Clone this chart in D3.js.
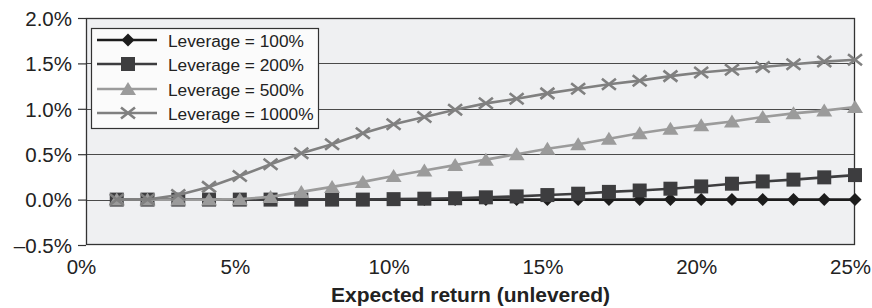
<!DOCTYPE html>
<html><head><meta charset="utf-8">
<script src="https://cdn.jsdelivr.net/npm/d3@7"></script>
<style>
html,body{margin:0;padding:0;background:#fff;}
svg{display:block;font-family:"Liberation Sans",Arial,Helvetica,sans-serif;}
</style></head>
<body><svg id="c" width="872" height="308"></svg>
<script>
const returns = [1,2,3,4,5,6,7,8,9,10,11,12,13,14,15,16,17,18,19,20,21,22,23,24,25];
const lev100  = [0,0,0,0,0,0,0,0,0,0,0,0,0,0,0,0,0,0,0,0,0,0,0,0,0];
const lev200  = [0,0,0,0,0,0,0,0,0,0.005,0.01,0.015,0.025,0.035,0.05,0.065,0.085,0.10,0.12,0.145,0.175,0.20,0.22,0.245,0.27];
const lev500  = [0,0,0,0,0.005,0.03,0.085,0.14,0.195,0.26,0.32,0.38,0.44,0.50,0.56,0.61,0.67,0.73,0.78,0.82,0.86,0.91,0.95,0.98,1.02];
const lev1000 = [0,0,0.05,0.14,0.26,0.39,0.51,0.61,0.73,0.83,0.91,0.99,1.06,1.11,1.17,1.22,1.27,1.31,1.36,1.40,1.43,1.46,1.49,1.52,1.54];
const seriesNames = ["Leverage = 100%","Leverage = 200%","Leverage = 500%","Leverage = 1000%"];
const yTicks = [-0.5,0,0.5,1.0,1.5,2.0];
const xTicks = [0,5,10,15,20,25];
const xTitle = "Expected return (unlevered)";

const series = [
  {name:seriesNames[0], values:lev100,  color:"#1c1c1c", marker:"diamond"},
  {name:seriesNames[1], values:lev200,  color:"#3d3d3f", marker:"square"},
  {name:seriesNames[2], values:lev500,  color:"#9b9b9b", marker:"triangle"},
  {name:seriesNames[3], values:lev1000, color:"#808080", marker:"x"}
];

const svg = d3.select("#c");
const L=86, R=855, T=18, B=245;
const x = d3.scaleLinear().domain([0,25]).range([L,R]);
const y = d3.scaleLinear().domain([-0.5,2.0]).range([B,T]);

svg.append("rect").attr("x",L).attr("y",T).attr("width",R-L).attr("height",B-T).attr("fill","#eff0f2");

svg.append("g").selectAll("line").data(yTicks.filter(d=>d>-0.5 && d<2.0)).join("line")
  .attr("x1",L).attr("x2",R).attr("y1",d=>Math.round(y(d))+0.5).attr("y2",d=>Math.round(y(d))+0.5)
  .attr("stroke","#4a4a4a").attr("stroke-width",1);

const yAxis = d3.axisLeft(y).tickValues(yTicks).tickSize(8).tickPadding(6)
  .tickFormat(d=> (d<0?"\u2013":"") + Math.abs(d).toFixed(1)+"%");
const gy = svg.append("g").attr("transform",`translate(${L},0)`).call(yAxis);
gy.select(".domain").remove();
gy.selectAll(".tick line").attr("stroke","#333").attr("stroke-width",1.2);
gy.selectAll(".tick text").attr("font-size","20.5px").attr("fill","#222").attr("font-family","Liberation Sans,Arial,sans-serif")
  .attr("x",-14).attr("dy","0.36em");

const xAxis = d3.axisBottom(x).tickValues(xTicks).tickSize(0).tickPadding(0).tickFormat(d=>d+"%");
const gx = svg.append("g").attr("transform",`translate(0,${B})`).call(xAxis);
gx.select(".domain").remove();
gx.selectAll(".tick text").attr("font-size","20.5px").attr("fill","#222").attr("font-family","Liberation Sans,Arial,sans-serif")
  .attr("y",29).attr("dy",0).attr("x",-5);

svg.append("rect").attr("x",L+0.5).attr("y",T+0.5).attr("width",R-L-1).attr("height",B-T-1)
  .attr("fill","none").attr("stroke","#333").attr("stroke-width",1.3);

svg.append("text").attr("x",(L+R)/2).attr("y",302).attr("text-anchor","middle")
  .attr("font-size","21px").attr("font-weight","bold").attr("fill","#222").text(xTitle);

function drawMarker(g, type, cx, cy, color){
  if(type==="diamond"){
    g.append("path").attr("d",`M${cx},${cy-6.5}L${cx+6.5},${cy}L${cx},${cy+6.5}L${cx-6.5},${cy}Z`).attr("fill",color);
  } else if(type==="square"){
    g.append("rect").attr("x",cx-7).attr("y",cy-7).attr("width",14).attr("height",14).attr("fill",color);
  } else if(type==="triangle"){
    g.append("path").attr("d",`M${cx},${cy-7}L${cx+8},${cy+6}L${cx-8},${cy+6}Z`).attr("fill",color);
  } else {
    g.append("path").attr("d",`M${cx-7},${cy-5.5}L${cx+7},${cy+5.5}M${cx-7},${cy+5.5}L${cx+7},${cy-5.5}`)
      .attr("stroke",color).attr("stroke-width",2.6).attr("fill","none");
  }
}

const line = d3.line().x((d,i)=>x(returns[i])).y(d=>y(d));
series.forEach(s=>{
  const g = svg.append("g");
  g.append("path").attr("d",line(s.values)).attr("fill","none").attr("stroke",s.color).attr("stroke-width",2.6);
  s.values.forEach((v,i)=>drawMarker(g, s.marker, x(returns[i]), y(v), s.color));
});

const lg = svg.append("g");
lg.append("rect").attr("x",91.5).attr("y",28.5).attr("width",227).attr("height",100)
  .attr("fill","#fbfbfb").attr("stroke","#333").attr("stroke-width",1.2);
const rowsY = [40,64,89,113];
series.forEach((s,i)=>{
  const cy = rowsY[i];
  lg.append("line").attr("x1",97).attr("x2",157).attr("y1",cy).attr("y2",cy).attr("stroke",s.color).attr("stroke-width",2.6);
  drawMarker(lg, s.marker, 128, cy, s.color);
  lg.append("text").attr("x",168).attr("y",cy+6.5).attr("font-size","17.3px").attr("fill","#222").text(s.name);
});
</script></body></html>
